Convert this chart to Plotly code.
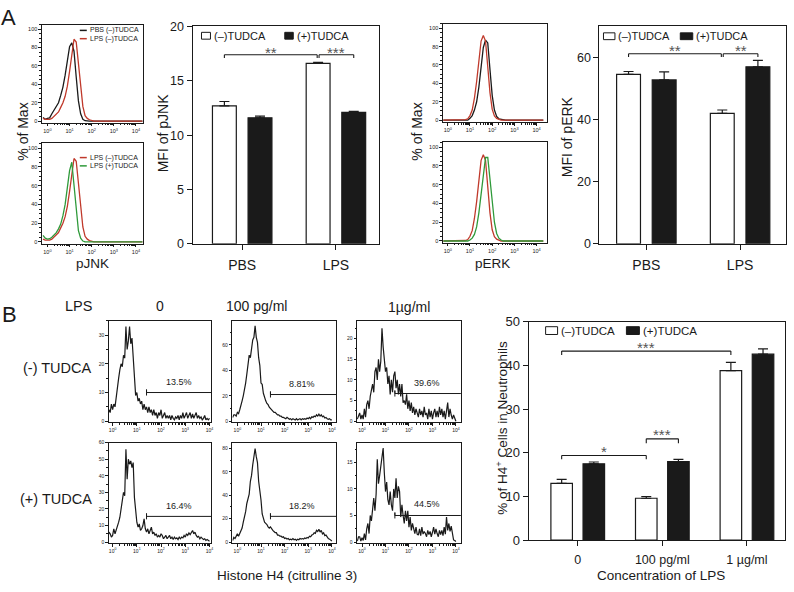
import plotly.graph_objects as go

W, H = 794, 592
FONT = "Liberation Sans, Arial, sans-serif"
INK = "#1a1a1a"
RED = "#c0392b"
GREEN = "#2f9a3a"
STAR = "#555555"

# ---------------- Panel A: flow histograms (x in log10 units) ----------------
bins_A = [-0.2, -0.1, 0.0, 0.1, 0.2, 0.3, 0.4, 0.5, 0.6, 0.7, 0.8, 0.9, 1.0, 1.1, 1.2,
          1.3, 1.4, 1.5, 1.6, 1.7, 1.8, 1.9, 2.0, 2.1, 2.2, 2.3, 2.4, 2.5, 2.6, 3.2, 4.3]
jnk_pbs_minus = [4, 2, 3, 3.5, 8, 12, 16, 20, 28, 37, 50, 65, 81, 85, 76,
                 48, 22, 8, 2, 0.5, 0, 0, 0, 0, 0, 0, 0, 0, 0, 0, 0]
jnk_lps_minus = [3, 2, 2, 2, 3, 5, 7, 10, 15, 20, 27, 38, 54, 72, 89,
                 86, 62, 35, 16, 6, 3, 1.5, 0.5, 0, 0, 0, 0, 0, 0, 0, 0]
jnk_lps_plus = [7, 4, 3, 3.5, 5, 7, 10, 14, 19, 28, 40, 58, 76, 85, 60,
                33, 12, 4, 1, 0, 0, 0, 0, 0, 0, 0, 0, 0, 0, 0, 0]
erk_pbs_minus = [0, 0, 0, 0, 0, 0, 0, 0, 0, 0, 0, 0, 2, 5, 11,
                 20, 36, 56, 79, 87, 84, 55, 27, 11, 4, 1.5, 1, 0, 0, 0, 0]
erk_lps_minus = [0, 0, 0, 0, 0, 0, 0, 0, 0, 0, 0.5, 1.5, 5, 11, 24,
                 42, 65, 86, 92, 86, 58, 30, 12, 4.5, 2, 1, 0, 0, 0, 0, 0]
erk_lps_plus = [0, 0, 0, 0, 0, 0, 0, 0, 0, 0, 0, 0, 1, 3, 7,
                15, 30, 50, 74, 89, 89, 68, 42, 20, 8, 3, 1, 0, 0, 0, 0]

# ---------------- Panel A: bar data ----------------
groups_A = ["PBS", "LPS"]
jnk_minus = [12.7, 16.6]
jnk_minus_err = [0.4, 0.1]
jnk_plus = [11.6, 12.1]
jnk_plus_err = [0.15, 0.1]
erk_minus = [54.6, 42.0]
erk_minus_err = [0.9, 1.1]
erk_plus = [52.8, 57.0]
erk_plus_err = [2.6, 2.1]

# ---------------- Panel B: histograms (x in log10 units) ----------------
bins_B = [-0.20, -0.15,
          -0.10, -0.05, 0.00, 0.05, 0.10, 0.15, 0.20, 0.25, 0.30, 0.35,
          0.40, 0.45, 0.50, 0.55, 0.60, 0.65, 0.70, 0.75, 0.80, 0.85,
          0.90, 0.95, 1.00, 1.05, 1.10, 1.15, 1.20, 1.25, 1.30, 1.35,
          1.40, 1.45, 1.50, 1.55, 1.60, 1.65, 1.70, 1.75, 1.80, 1.85,
          1.90, 1.95, 2.00, 2.05, 2.10, 2.15, 2.20, 2.25, 2.30, 2.35,
          2.40, 2.45, 2.50, 2.55, 2.60, 2.65, 2.70, 2.75, 2.80, 2.85,
          2.90, 2.95, 3.00, 3.05, 3.10, 3.15, 3.20, 3.25, 3.30, 3.35,
          3.40, 3.45, 3.50, 3.55, 3.60, 3.65, 3.70, 3.75, 3.80, 3.85,
          3.90, 3.95, 4.00]
h_minus_0 = [2, 4,
             3, 6, 4, 6, 5, 9, 12, 15, 18, 20,
             19, 23, 22, 33, 25, 28, 33, 27, 29, 22,
             18, 9, 10, 7, 8, 6, 7, 4, 6, 4,
             5, 3, 5, 3, 4, 2, 4, 2, 3, 1,
             3, 2, 4, 1, 2, 3, 1, 2, 1, 2,
             0.5, 2, 1, 0.5, 1.5, 1, 2, 0.5, 2, 1,
             3, 1, 2, 3, 1, 2, 3, 1, 2.5, 1,
             2, 3, 1, 2, 1, 1.5, 0.5, 1, 2, 0.5,
             1, 0.5, 1]
h_minus_100 = [3, 5,
               5, 4, 7, 6, 9, 12, 16, 20, 24, 30,
               37, 44, 52, 50, 60, 64, 66, 75, 66, 62,
               50, 44, 30, 29, 22, 18, 16, 14, 13, 11,
               10, 9, 8, 7, 7, 6, 5, 5, 4, 4,
               3, 3, 2.5, 2, 3, 2, 1.5, 2, 1, 2,
               1.5, 1, 2, 1, 1.5, 2, 1, 2, 1.5, 2,
               1.5, 2.5, 2, 3, 2, 3.5, 3, 4, 3.5, 5,
               4, 5.5, 4, 5, 3.5, 4, 2.5, 3, 2, 1.5,
               2, 1, 1]
h_minus_1ug = [0.5, 1.5,
               2, 0.5, 1.5, 0.5, 3, 1, 4, 5, 3, 6,
               8, 9, 7, 12, 13, 10, 15, 12, 14.5, 22.5,
               18, 15, 12, 13, 9, 11, 6.5, 10, 7, 11,
               12, 8, 10, 6.5, 9, 6, 9, 4.5, 5, 4,
               6.5, 3, 5, 2.5, 4.5, 2, 3.5, 1.5, 3, 2,
               1, 3, 1.5, 2.5, 1, 3.5, 1.5, 2, 0.5, 3,
               1, 2.5, 0.5, 2, 3, 1, 2.5, 1, 3.5, 1.5,
               3, 1, 2.5, 0.5, 3, 4.5, 1, 3, 1.5, 0.5,
               1.5, 0.5, 0]
h_plus_0 = [3, 6,
            5, 3, 4, 8, 5, 7, 10, 12, 15, 20,
            26, 30, 28, 56, 38, 50, 47, 49, 45, 48,
            27, 18, 12, 9, 11, 7, 8, 10, 14, 8,
            6, 8, 5, 7, 9, 5, 6, 4, 5, 3,
            4, 3, 5, 4, 2, 3, 4, 2, 3, 4,
            2, 3, 1.5, 3, 2, 2.5, 1.5, 3, 2, 3,
            2.5, 4, 3, 5, 4, 5.5, 4.5, 6, 7, 5,
            6, 4, 3, 3.5, 2, 3, 2.5, 1.5, 2, 1,
            1.5, 1, 0.5]
h_plus_100 = [1.4, 4,
              3, 5, 7, 5, 8, 11, 12, 17, 21, 26,
              33, 38, 41, 52, 57, 66, 72, 80, 73, 68,
              52, 45, 36, 24, 20, 17, 16, 15, 13, 12,
              13, 11, 10, 9, 8, 8, 6, 6, 5, 5,
              4, 4.5, 3, 3.5, 2.5, 3, 2, 2.5, 2, 3,
              2, 2.5, 1.5, 2.5, 2, 3, 2.5, 3, 2.5, 3.5,
              3, 4, 3.5, 5, 4.5, 6, 6.5, 8, 7.5, 10,
              9, 11, 8.5, 10, 7, 8, 5.5, 6, 4, 3,
              2.5, 2, 1]
h_plus_1ug = [0.2, 1,
              1, 0.2, 0.8, 0.3, 1.6, 0.4, 2.5, 3.5, 1.6, 5,
              4, 6.5, 8.3, 5.9, 9, 15.6, 11, 12.5, 14.4, 16.8,
              17.7, 13, 9.5, 11.3, 8, 7, 9.5, 7, 5.9, 10,
              8.3, 12, 8.3, 10.5, 9.5, 4.7, 7, 5, 3.5, 5.9,
              4, 5.9, 2.8, 4.7, 2.2, 3.5, 2.5, 1.6, 2.8, 1.5,
              1.3, 2.5, 1.2, 2.8, 1.5, 2, 1.6, 1, 2.2, 1.4,
              2, 1, 1.8, 2.8, 1.5, 2.5, 1.6, 1, 2.2, 1.4,
              2.2, 1.2, 2.8, 1.5, 4.7, 2.2, 3.5, 2, 3, 1.3,
              0.4, 0.3, 0.1]
hist_B = [h_minus_0, h_minus_100, h_minus_1ug, h_plus_0, h_plus_100, h_plus_1ug]
for s in hist_B:
    assert len(s) == len(bins_B), len(s)
for s in [jnk_pbs_minus, jnk_lps_minus, jnk_lps_plus, erk_pbs_minus, erk_lps_minus, erk_lps_plus]:
    assert len(s) == len(bins_A), len(s)

gate_start_B = 1.4
gate_levels_B = [10, 21, 6.7, 15.5, 22, 5]
gate_pct_B = ["13.5%", "8.81%", "39.6%", "16.4%", "18.2%", "44.5%"]
pct_y_B = [13.5, 29, 9.2, 22, 31, 7.2]
y_max_B = [35, 79, 24.3, 60, 85, 18.7]
y_dtick_B = [10, 20, 5, 10, 20, 5]

# ---------------- Panel B: bar data ----------------
groups_B = ["0", "100 pg/ml", "1 \u00b5g/ml"]
h4_minus = [13.0, 9.6, 38.8]
h4_minus_err = [0.9, 0.4, 1.9]
h4_plus = [17.5, 18.0, 42.6]
h4_plus_err = [0.4, 0.5, 1.2]

# ---------------- geometry helpers ----------------
def px(x):
    return x / W


def py(y):
    return 1 - y / H


def ids(k):
    s = "" if k == 1 else str(k)
    return "x" + s, "y" + s


boxes = {
    1: (42, 143, 18, 119), 2: (42, 143, 140, 243), 3: (193, 380, 20, 243),
    4: (444, 548, 17, 118), 5: (444, 548, 139, 242), 6: (601, 788, 20, 243),
    7: (109, 212, 322, 426), 8: (233, 337, 322, 426), 9: (358, 462, 322, 426),
    10: (109, 212, 447, 550), 11: (233, 337, 447, 550), 12: (358, 462, 447, 550),
    13: (530, 787, 323, 547),
}

decades = [1, 10, 100, 1000, 10000]
dec_text = ["10<sup>%d</sup>" % i for i in range(5)]
minor_log = [m * d for d in [1, 10, 100, 1000] for m in range(2, 10)]

fig = go.Figure()
layout = dict(width=W, height=H, margin=dict(l=0, r=0, t=0, b=0),
              paper_bgcolor="white", plot_bgcolor="white",
              font=dict(family=FONT, color=INK), showlegend=False,
              barmode="group", bargap=0.24, bargroupgap=0.33)
shapes, annots = [], []


def line_common():
    return dict(showline=True, linecolor=INK, linewidth=1, mirror=True,
                showgrid=False, zeroline=False, ticks="outside", tickcolor=INK)


def hist_axes(k, xr, yr, dtick, mdtick, fs=5.5):
    x0, x1, y0, y1 = boxes[k]
    xa, ya = ids(k)
    xd = dict(domain=[px(x0), px(x1)], anchor=ya, type="log", range=xr,
              tickvals=decades, ticktext=dec_text, tickfont=dict(size=fs),
              ticklen=2.5, tickwidth=0.8,
              minor=dict(ticks="outside", ticklen=1.5, tickwidth=0.6,
                         tickvals=minor_log, tickcolor=INK),
              **line_common())
    yd = dict(domain=[py(y1), py(y0)], anchor=xa, range=yr, tick0=0, dtick=dtick,
              tickfont=dict(size=fs), ticklen=2.5, tickwidth=0.8,
              minor=dict(ticks="outside", ticklen=1.5, tickwidth=0.6, dtick=mdtick,
                         tickcolor=INK),
              **line_common())
    layout["xaxis" + xa[1:]] = xd
    layout["yaxis" + ya[1:]] = yd


def add_line(k, bins, vals, color, width=1.3):
    xa, ya = ids(k)
    fig.add_trace(go.Scatter(x=[10 ** b for b in bins], y=vals, mode="lines",
                             line=dict(color=color, width=width),
                             xaxis=xa, yaxis=ya, hoverinfo="skip"))


def ann(text, x, y, size, xanchor="center", yanchor="middle", angle=0, color=INK, **kw):
    d = dict(text=text, x=px(x), y=py(y), xref="paper", yref="paper",
             showarrow=False, font=dict(size=size, color=color, family=FONT),
             xanchor=xanchor, yanchor=yanchor, textangle=angle)
    d.update(kw)
    annots.append(d)


# ---------------- Panel A histograms ----------------
hist_axes(1, [-0.25, 4.3], [-2, 105], 20, 5)
hist_axes(2, [-0.25, 4.3], [-2, 105], 20, 5)
hist_axes(4, [-0.22, 4.45], [-2, 105], 20, 5)
hist_axes(5, [-0.22, 4.45], [-2, 105], 20, 5)
add_line(1, bins_A, jnk_pbs_minus, INK)
add_line(1, bins_A, jnk_lps_minus, RED)
add_line(2, bins_A, jnk_lps_minus, RED)
add_line(2, bins_A, jnk_lps_plus, GREEN)
add_line(4, bins_A, erk_pbs_minus, INK)
add_line(4, bins_A, erk_lps_minus, RED)
add_line(5, bins_A, erk_lps_minus, RED)
add_line(5, bins_A, erk_lps_plus, GREEN)

# histogram legends (panel A)
for (yy, col, txt) in [(24, INK, "PBS (\u2013)TUDCA"), (32.5, RED, "LPS (\u2013)TUDCA"),
                       (154.5, RED, "LPS (\u2013)TUDCA"), (163, GREEN, "LPS (+)TUDCA")]:
    shapes.append(dict(type="line", xref="paper", yref="paper", x0=px(80), x1=px(87),
                       y0=py(yy), y1=py(yy), line=dict(color=col, width=1.5)))
    ann(txt, 88, yy, 7, xanchor="left")

ann("% of Max", 23, 128, 14, angle=-90)
ann("% of Max", 418, 128, 14, angle=-90)
ann("pJNK", 93, 263, 13.5)
ann("pERK", 494, 263, 13.5)
ann("A", 9, 11, 22)


# ---------------- bar charts ----------------
OFF = (1 - 0.24) / 4


def bar_axes(k, xr, yr, dtick, tfs, yfs):
    x0, x1, y0, y1 = boxes[k]
    xa, ya = ids(k)
    layout["xaxis" + xa[1:]] = dict(domain=[px(x0), px(x1)], anchor=ya, type="category",
                                    range=xr, tickfont=dict(size=tfs), ticklen=5,
                                    tickwidth=1, ticklabelstandoff=3, **line_common())
    layout["yaxis" + ya[1:]] = dict(domain=[py(y1), py(y0)], anchor=xa, range=yr,
                                    dtick=dtick, tick0=0, tickfont=dict(size=yfs),
                                    ticklen=5, tickwidth=1, **line_common())


def add_bars(k, cats, minus, minus_err, plus, plus_err):
    xa, ya = ids(k)
    for vals, err, fill, og in [(minus, minus_err, "white", "m"), (plus, plus_err, INK, "p")]:
        fig.add_trace(go.Bar(x=cats, y=vals, xaxis=xa, yaxis=ya, offsetgroup=og,
                             marker=dict(color=fill, line=dict(color=INK, width=1.2)),
                             error_y=dict(type="data", array=err, arrayminus=[0] * len(err),
                                          symmetric=False, color=INK, thickness=1.2, width=5),
                             hoverinfo="skip"))


def bracket(k, xa_, xb_, y, drop, text, ty, size=15):
    xr, yr = ids(k)
    for (a0, b0, a1, b1) in [(xa_, y - drop, xa_, y), (xa_, y, xb_, y), (xb_, y, xb_, y - drop)]:
        shapes.append(dict(type="line", xref=xr, yref=yr, x0=a0, y0=b0, x1=a1, y1=b1,
                           line=dict(color=INK, width=1.1)))
    annots.append(dict(text=text, x=(xa_ + xb_) / 2, y=ty, xref=xr, yref=yr, showarrow=False,
                       font=dict(size=size, color=STAR, family=FONT),
                       xanchor="center", yanchor="middle"))


def bar_legend(xo0, xo1, xf0, xf1, ytop, ybot, size=11):
    shapes.append(dict(type="rect", xref="paper", yref="paper", x0=px(xo0), x1=px(xo1),
                       y0=py(ybot), y1=py(ytop), fillcolor="white",
                       line=dict(color=INK, width=1)))
    shapes.append(dict(type="rect", xref="paper", yref="paper", x0=px(xf0), x1=px(xf1),
                       y0=py(ybot), y1=py(ytop), fillcolor=INK,
                       line=dict(color=INK, width=1)))
    ym = (ytop + ybot) / 2
    ann("(\u2013)TUDCA", xo1 + 1.5, ym, size, xanchor="left")
    ann("(+)TUDCA", xf1 + 1.5, ym, size, xanchor="left")


# pJNK
bar_axes(3, [-0.53, 1.46], [0, 20], 5, 14, 12.5)
add_bars(3, groups_A, jnk_minus, jnk_minus_err, jnk_plus, jnk_plus_err)
bracket(3, 0 - OFF, 1 - OFF - 0.01, 17.4, 0.3, "**", 17.65)
bracket(3, 1 - OFF + 0.01, 1 + OFF, 17.4, 0.3, "***", 17.65)
bar_legend(202, 211, 285.5, 294, 26, 33)
ann("MFI of pJNK", 163, 130, 14, angle=-90)

# pERK
bar_axes(6, [-0.5, 1.49], [0, 70], 20, 14, 12.5)
add_bars(6, groups_A, erk_minus, erk_minus_err, erk_plus, erk_plus_err)
bracket(6, 0 - OFF, 1 - OFF - 0.01, 61.2, 1.0, "**", 62.2)
bracket(6, 1 - OFF + 0.01, 1 + OFF, 61.2, 1.0, "**", 62.2)
bar_legend(605, 616.5, 682, 694.5, 26.5, 33.5)
ann("MFI of pERK", 568, 133, 14, angle=-90)

# ---------------- Panel B histograms ----------------
xr_cols = [[-0.16, 4.08], [-0.21, 4.18], [-0.21, 4.21]]
for i, vals in enumerate(hist_B):
    k = 7 + i
    col = i % 3
    ymax = y_max_B[i]
    hist_axes(k, xr_cols[col], [-ymax * 0.01, ymax], y_dtick_B[i], y_dtick_B[i] / 2, fs=5)
    add_line(k, bins_B, vals, INK, width=1.2)
    # gate marker
    xa, ya = ids(k)
    g = gate_levels_B[i]
    d = ymax * 0.03
    gx = 10 ** gate_start_B
    fig.add_trace(go.Scatter(x=[gx, gx, gx, 10 ** 4.4], y=[g - d, g + d, g, g], mode="lines",
                             line=dict(color=INK, width=1), xaxis=xa, yaxis=ya, hoverinfo="skip"))
    annots.append(dict(text=gate_pct_B[i], x=2.75, y=pct_y_B[i], xref=xa, yref=ya,
                       showarrow=False, font=dict(size=9, color=INK, family=FONT),
                       xanchor="center", yanchor="middle"))

ann("B", 10, 315, 22)
ann("LPS", 79, 307, 14.5)
ann("0", 160, 307, 14)
ann("100 pg/ml", 257, 307, 14)
ann("1\u00b5g/ml", 410, 308, 14)
ann("(-) TUDCA", 58, 370, 14.5)
ann("(+) TUDCA", 56, 505, 14.5)
ann("Histone H4 (citrulline 3)", 288, 583, 13.5)

# ---------------- Panel B bar chart ----------------
bar_axes(13, [-0.58, 2.45], [0, 50], 10, 12.5, 13)
add_bars(13, groups_B, h4_minus, h4_minus_err, h4_plus, h4_plus_err)
bracket(13, 0 - OFF, 2 - OFF, 43.3, 0.9, "***", 44.2)
bracket(13, 0 - OFF, 1 - OFF, 19.4, 0.9, "*", 20.3)
bracket(13, 1 - OFF, 1 + OFF, 23.2, 1.0, "***", 24.1)
bar_legend(547, 559, 628, 641, 328, 336, size=11.5)
ann("% of H4<sup>+</sup> Cells in Neutrophils", 503, 432, 13.5, angle=-90)
ann("Concentration of LPS", 663, 583, 13.5)

layout["shapes"] = shapes
layout["annotations"] = annots
fig.update_layout(**layout)

fig.write_html("out.html", config={"displayModeBar": False},
               post_script="document.body.style.margin='0';document.body.style.overflow='hidden';")
